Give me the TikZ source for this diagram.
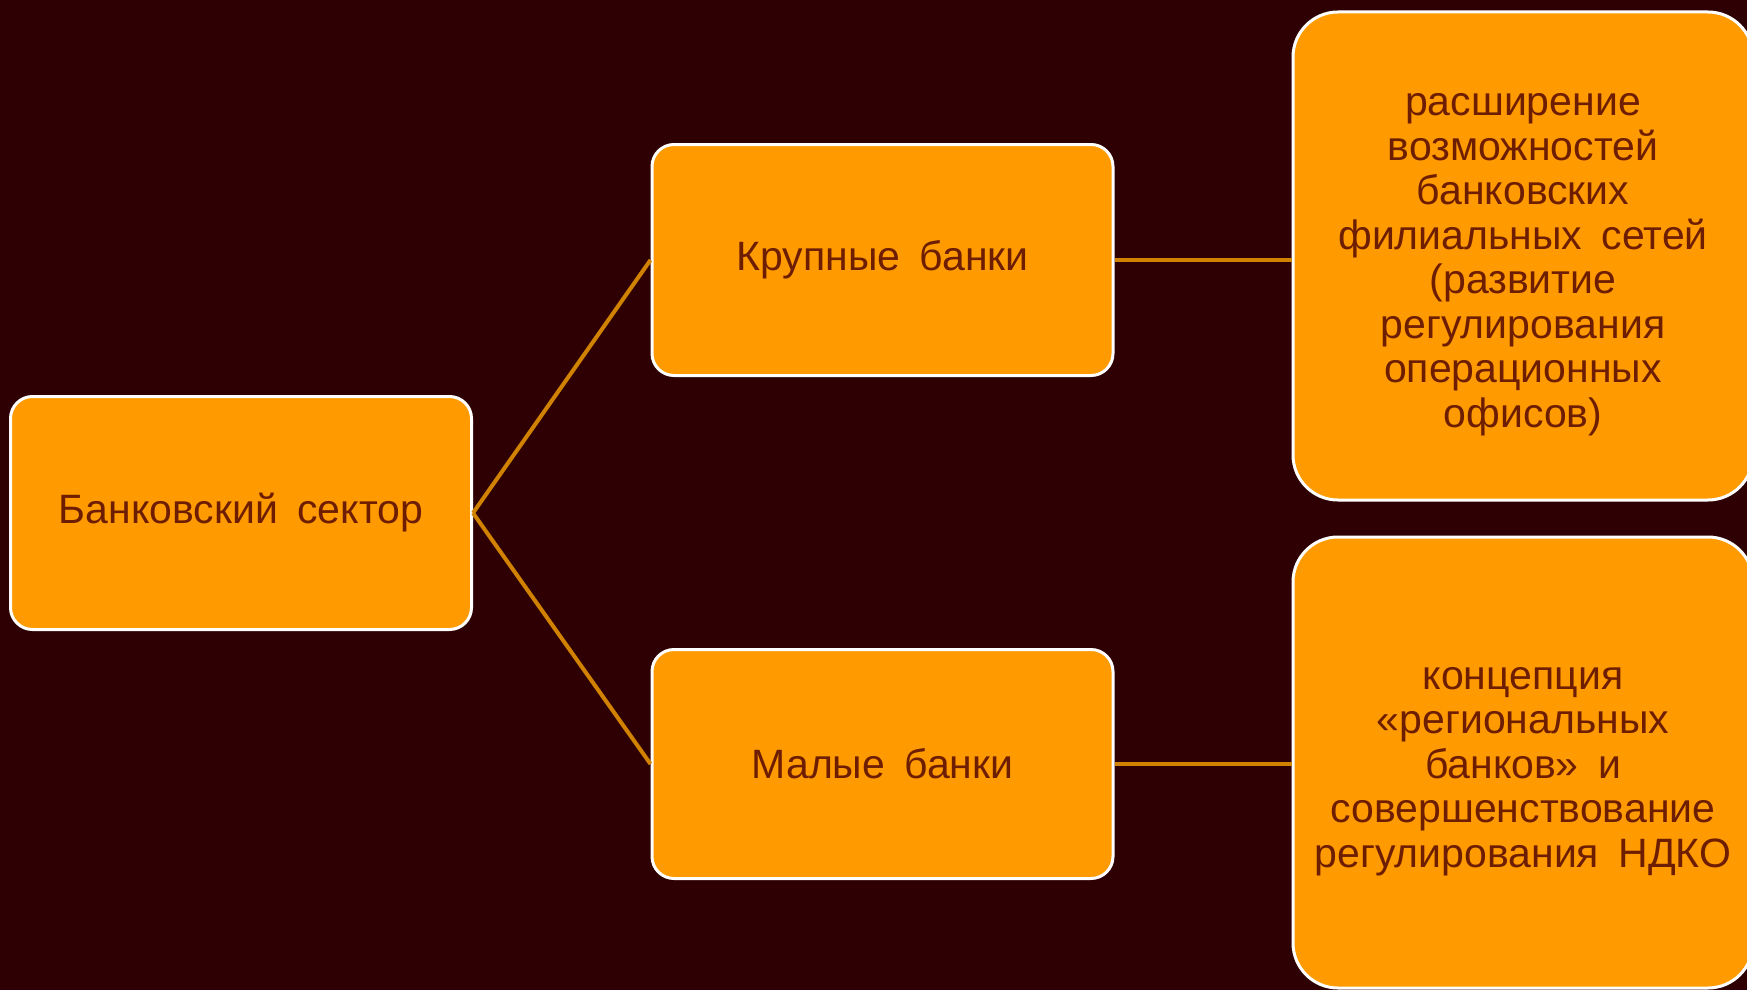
\documentclass[tikz,border=0pt]{standalone}
\usepackage{fontspec}
\setmainfont[WordSpace=1.7]{Liberation Sans}
\usepackage{xcolor}
\usetikzlibrary{positioning}
\definecolor{slidebg}{HTML}{2E0003}
\definecolor{boxfill}{HTML}{FF9A00}
\definecolor{boxtext}{HTML}{6E1E00}
\definecolor{linkcol}{HTML}{D08200}
\tikzstyle{every node}=[font=\fontsize{41}{44.5}\selectfont, text=boxtext]
\tikzstyle{block} = [rectangle, draw=white, line width=3pt, fill=boxfill, align=center, rounded corners=22pt, inner sep=0pt, minimum width=461pt, minimum height=231pt]
\tikzstyle{note} = [block, rounded corners=45pt, minimum width=460pt]
\tikzstyle{line} = [draw=linkcol, line width=4pt]

\begin{document}
\begin{tikzpicture}[x=1pt, y=-1pt]
    % Background
    \path [use as bounding box, fill=slidebg] (0,0) rectangle (1747,990);
    % Place nodes
    \node [block, minimum height=233pt] (sector) at (241,513) {Банковский сектор};
    \node [block] (large) at (882.5,260) {Крупные банки};
    \node [block, minimum height=229pt] (small) at (882.5,764) {Малые банки};
    \node [note, minimum height=488pt] (largenote) at (1523,256) {\rule{0pt}{39pt}расширение\\возможностей\\банковских\\филиальных сетей\\(развитие\\регулирования\\операционных\\офисов)};
    \node [note, minimum height=451pt] (smallnote) at (1523,762.5) {\rule{0pt}{40pt}концепция\\«региональных\\банков» и\\совершенствование\\регулирования НДКО};
    % Draw edges
    \path [line] (sector.east) -- (large.west);
    \path [line] (sector.east) -- (small.west);
    \path [line] (large.east) -- (largenote.west |- large.east);
    \path [line] (small.east) -- (smallnote.west |- small.east);
\end{tikzpicture}
\end{document}
